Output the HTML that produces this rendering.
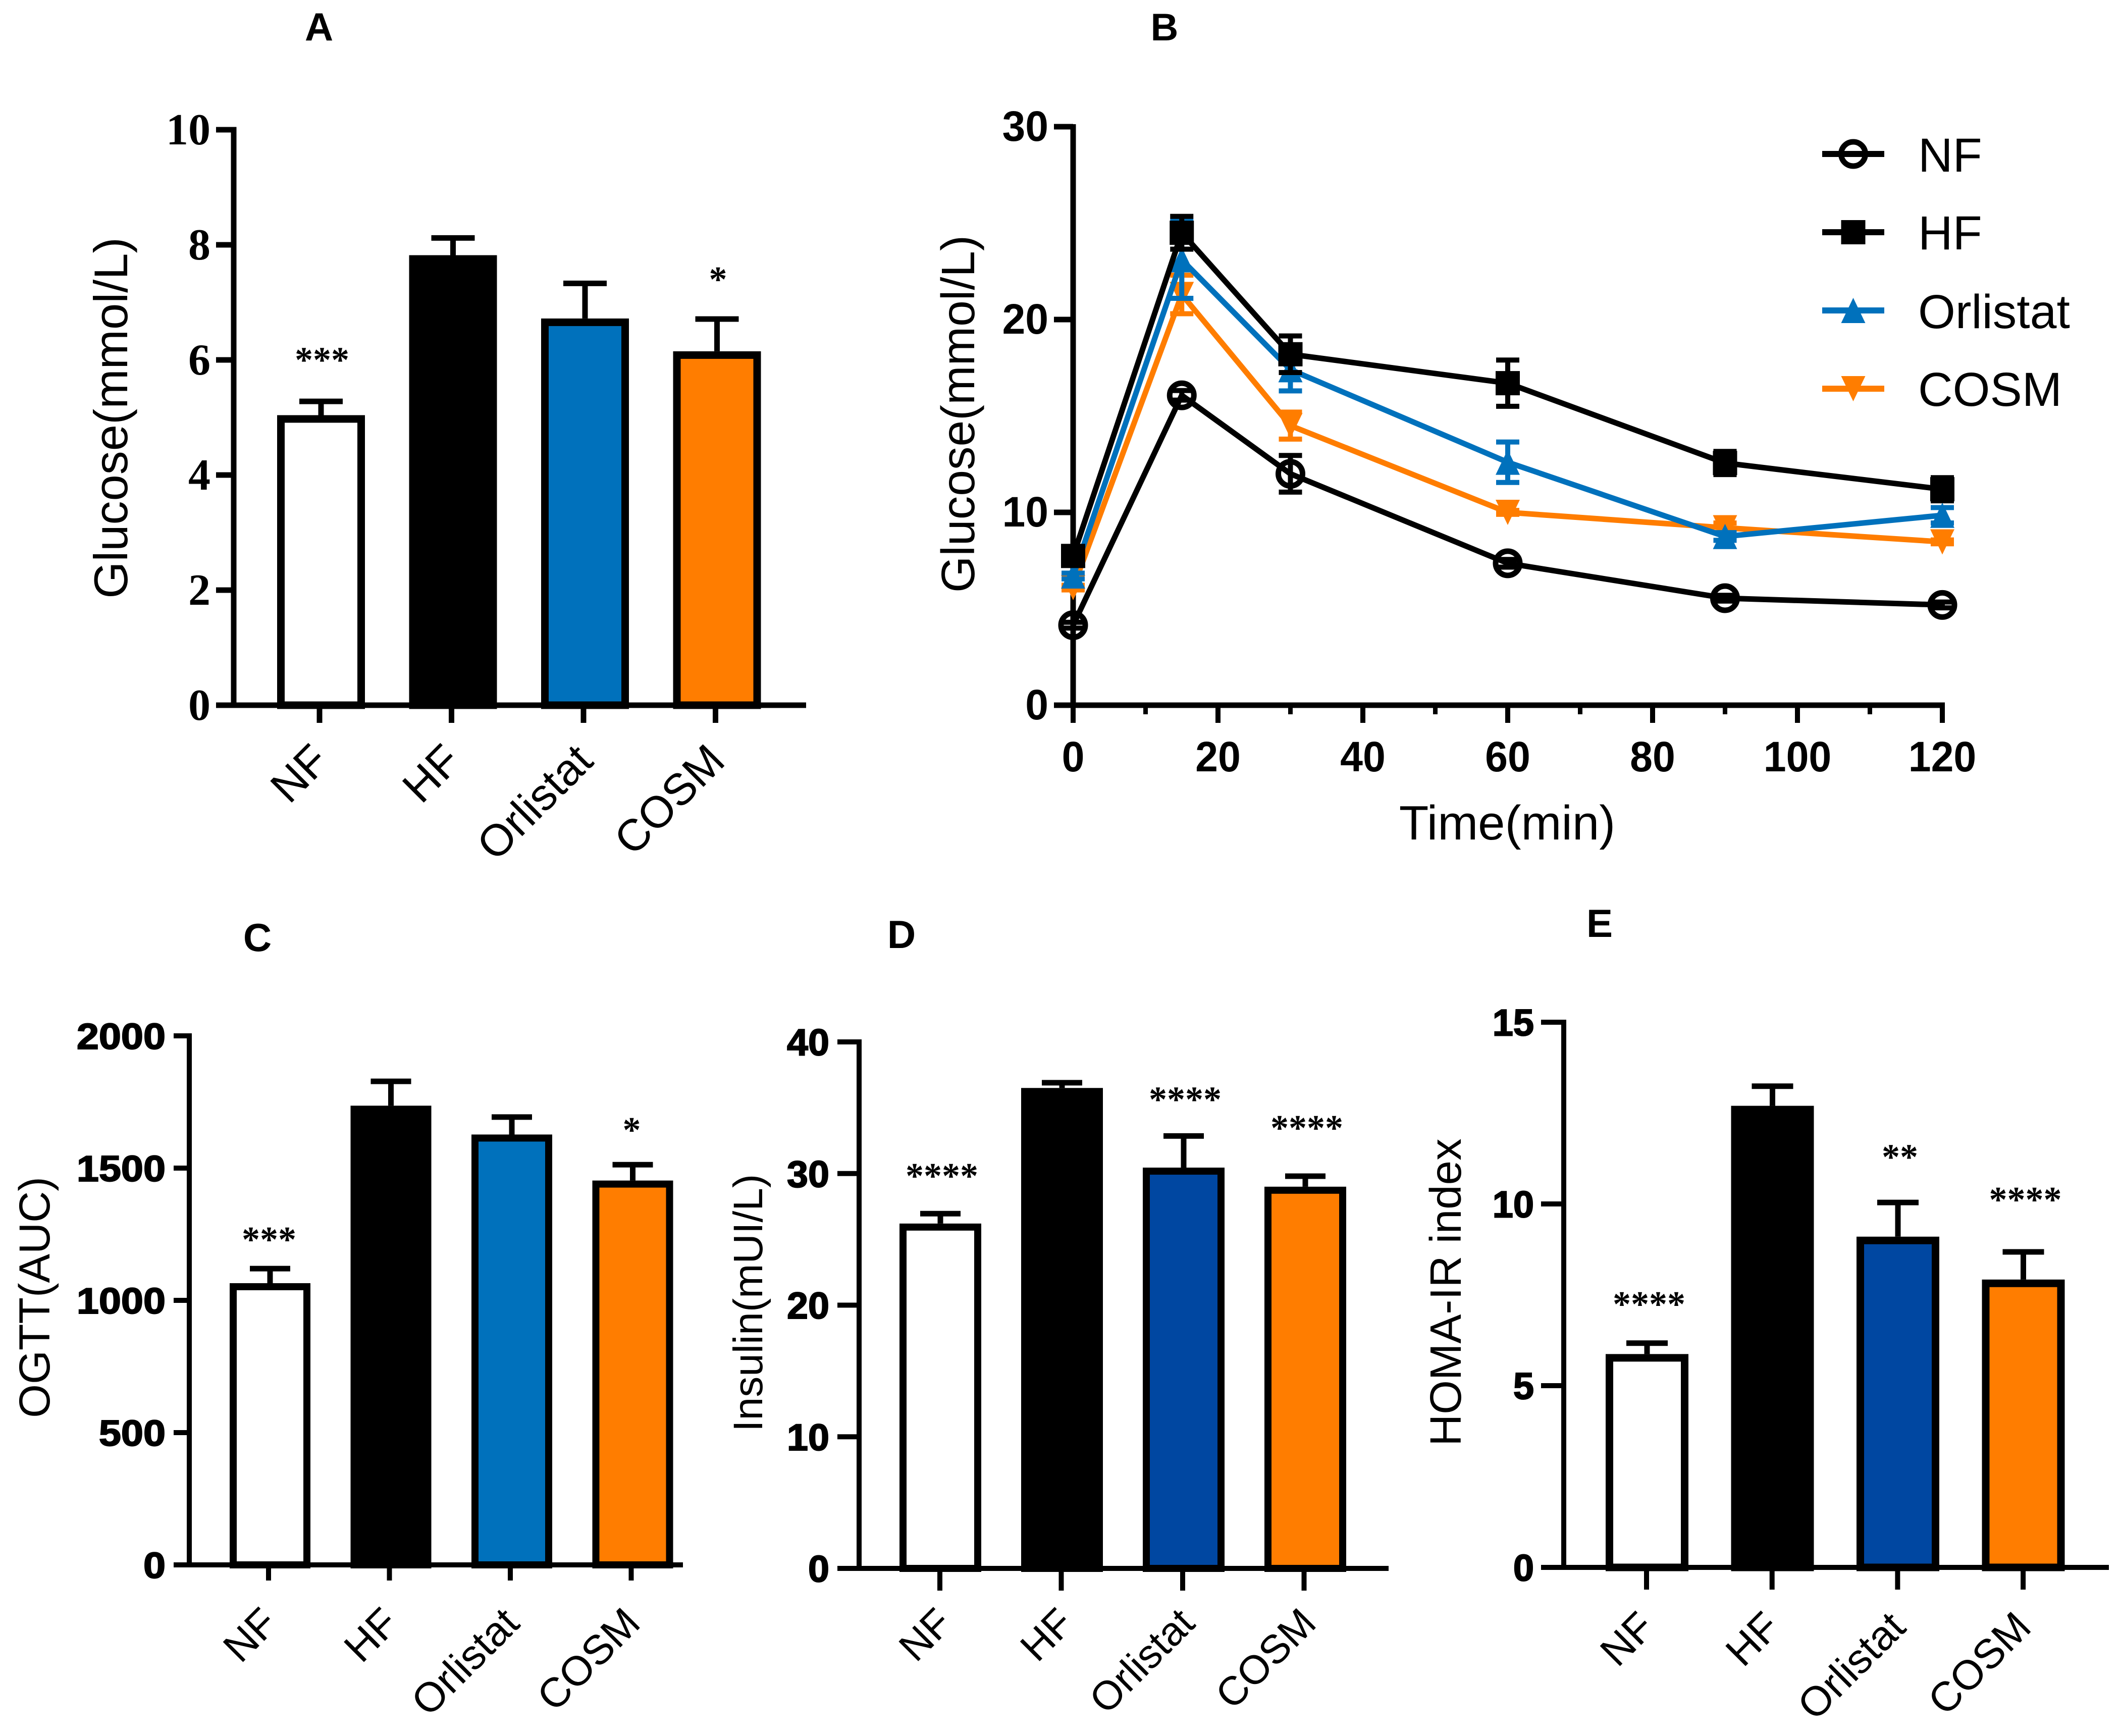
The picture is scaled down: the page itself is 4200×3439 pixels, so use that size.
<!DOCTYPE html>
<html lang="en">
<head>
<meta charset="utf-8">
<title>Glucose, OGTT, insulin and HOMA-IR panels</title>
<style>
html,body{margin:0;padding:0;background:#fff;}
svg{display:block;}
text{font-family:"Liberation Sans",sans-serif;fill:#000;}
</style>
</head>
<body>
<svg id="figure" xmlns="http://www.w3.org/2000/svg" width="4200" height="3439" viewBox="0 0 4200 3439"></svg>
<script>
/* ---------- data ---------- */
const groupNames = ['NF', 'HF', 'Orlistat', 'COSM'];

const panelATicks = [0, 2, 4, 6, 8, 10];
const panelAMeans = [5.04, 7.82, 6.72, 6.15];
const panelAErrors = [0.24, 0.3, 0.61, 0.56];
const panelAStars = ['***', '', '', '*'];
const panelAStarLevels = [6.08, 0, 0, 7.48];

const panelCTicks = [0, 500, 1000, 1500, 2000];
const panelCMeans = [1065, 1736, 1627, 1453];
const panelCErrors = [55, 92, 66, 60];
const panelCStars = ['***', '', '', '*'];
const panelCStarLevels = [1247, 0, 0, 1661];

const panelDTicks = [0, 10, 20, 30, 40];
const panelDMeans = [26.2, 36.5, 30.45, 29.0];
const panelDErrors = [0.75, 0.4, 2.4, 0.8];
const panelDStars = ['****', '', '****', '****'];
const panelDStarLevels = [30.16, 0, 35.97, 33.8];

const panelETicks = [0, 5, 10, 15];
const panelEMeans = [5.87, 12.7, 9.1, 7.92];
const panelEErrors = [0.3, 0.54, 0.94, 0.76];
const panelEStars = ['****', '', '**', '****'];
const panelEStarLevels = [7.37, 0, 11.42, 10.24];

const timePoints = [0, 15, 30, 60, 90, 120];
const panelBYTicks = [0, 10, 20, 30];
const panelBXMajorTicks = [0, 20, 40, 60, 80, 100, 120];
const panelBXMinorTicks = [10, 30, 50, 70, 90, 110];

const nfMeans = [4.15, 16.07, 12, 7.36, 5.55, 5.2];
const nfErrors = [0.15, 0.25, 0.95, 0.2, 0.15, 0.15];
const hfMeans = [7.74, 24.5, 18.2, 16.7, 12.56, 11.2];
const hfErrors = [0.4, 0.85, 0.95, 1.2, 0.6, 0.6];
const orlistatMeans = [6.7, 23.1, 17.4, 12.6, 8.75, 9.85];
const orlistatErrors = [0.15, 2.0, 1.1, 1.05, 0.2, 0.4];
const cosmMeans = [6.1, 21.3, 14.5, 10.0, 9.2, 8.47];
const cosmErrors = [0.12, 1.0, 0.7, 0.1, 0.25, 0.1];

/* ---------- helpers ---------- */
const NS = 'http://www.w3.org/2000/svg';
const svg = document.getElementById('figure');
const SERIF = '"Liberation Serif",serif';
const BLUE = '#0071bc';
const DARKBLUE = '#0047a1';
const ORANGE = '#ff7d00';

function shape(parent, tag, attrs, content) {
  const node = document.createElementNS(NS, tag);
  for (const k in attrs) node.setAttribute(k, attrs[k]);
  if (content !== undefined) node.textContent = content;
  parent.appendChild(node);
  return node;
}
function line(parent, x1, y1, x2, y2, color, w) {
  return shape(parent, 'line', {x1: x1, y1: y1, x2: x2, y2: y2, stroke: color, 'stroke-width': w});
}
function linearScale(d0, d1, r0, r1) {
  return function (v) { return r0 + (v - d0) * (r1 - r0) / (d1 - d0); };
}
function panelLetter(letter, x, y, size) {
  const t = shape(svg, 'text', {x: x, y: y, 'font-size': size, 'font-weight': 700, 'text-anchor': 'middle'}, letter);
  
  
}
function yTitle(parent, label, x, y, size) {
  const t = shape(parent, 'text', {transform: 'translate(' + x + ',' + y + ') rotate(-90)', 'font-size': size, 'text-anchor': 'middle'}, label);
  
  
}

/* ---------- bar panel ---------- */
function barPanel(cfg, ticks, means, errors, stars, starLevels) {
  const g = shape(svg, 'g', {});
  
  
  const yScale = linearScale(0, ticks[ticks.length - 1], cfg.y0, cfg.yTop);
  const center = function (i) { return cfg.barX0 + i * cfg.step; };
  const tickX = function (i) { return cfg.tickX0 + i * cfg.tickStep; };

  means.forEach(function (m, i) {
    const cx = center(i);
    const top = yScale(m);
    const capY = yScale(m + errors[i]);
    const err = line(g, cx - cfg.errShift, top, cx - cfg.errShift, capY, '#000', cfg.errW);
    
    
    const cap = line(g, cx - cfg.errShift - cfg.capW / 2, capY, cx - cfg.errShift + cfg.capW / 2, capY, '#000', cfg.errW);
    
    
    const bar = shape(g, 'rect', {
      x: cx - cfg.barW / 2 + cfg.sw / 2, y: top + cfg.sw / 2,
      width: cfg.barW - cfg.sw, height: Math.max(0, cfg.y0 - top - cfg.sw / 2),
      fill: cfg.fills[i], stroke: '#000', 'stroke-width': cfg.sw
    });
    
    
    if (stars[i]) {
      const s = shape(g, 'text', {x: cx + cfg.starShift, y: yScale(starLevels[i]) + 33, 'font-size': 72, 'font-weight': 700, 'text-anchor': 'middle', style: 'font-family:' + SERIF}, stars[i]);
      
      
    }
  });

  const yAxis = line(g, cfg.axisX, cfg.yTop - cfg.lw / 2, cfg.axisX, cfg.y0 + cfg.lw / 2, '#000', cfg.lw);
  
  
  const xAxis = line(g, cfg.tickLeft, cfg.y0, cfg.xEnd, cfg.y0, '#000', cfg.lw);
  
  

  ticks.forEach(function (t) {
    const y = yScale(t);
    const tk = line(g, cfg.tickLeft, y, cfg.axisX, y, '#000', cfg.lw);
    
    
    const bx = cfg.labelRight;
    const by = y + cfg.tickSize * cfg.capRatio;
    const lbl = shape(g, 'text', {
      transform: 'translate(' + bx + ',' + by + ') scale(' + cfg.tickSx + ',1)',
      'font-size': cfg.tickSize, 'font-weight': 700, 'text-anchor': 'end',
      style: cfg.serif ? 'font-family:' + SERIF : 'stroke:#000;stroke-width:2'
    }, String(t));
    
    
  });

  groupNames.forEach(function (name, i) {
    const x = tickX(i);
    const tk = line(g, x, cfg.y0, x, cfg.tickBottom, '#000', cfg.lw);
    
    
    const lbl = shape(g, 'text', {
      transform: 'translate(' + (x + cfg.labelDx) + ',' + (cfg.y0 + cfg.labelDy) + ') rotate(-45)',
      'font-size': cfg.catSize, 'text-anchor': 'end'
    }, name);
    
    
  });

  yTitle(g, cfg.title, cfg.titleX, cfg.titleY, cfg.titleSize);
}

const lightFills = ['#fff', '#000', BLUE, ORANGE];
const darkFills = ['#fff', '#000', DARKBLUE, ORANGE];

panelLetter('A', 632, 80, 78);
barPanel({id: 'a', y0: 1397, yTop: 257, axisX: 463, tickLeft: 428, xEnd: 1597, tickBottom: 1432, lw: 11,
  barX0: 636, step: 261.5, tickX0: 633, tickStep: 261.5, barW: 174, sw: 15, capW: 86, errW: 11, errShift: 0, starShift: 2,
  fills: lightFills, labelRight: 417, tickSize: 88, tickSx: 1, capRatio: 0.33, serif: true,
  labelDx: 23, labelDy: 115, catSize: 88, title: 'Glucose(mmol/L)', titleX: 252, titleY: 828, titleSize: 94},
  panelATicks, panelAMeans, panelAErrors, panelAStars, panelAStarLevels);

panelLetter('C', 510, 1884, 78);
barPanel({id: 'c', y0: 3100, yTop: 2052, axisX: 375, tickLeft: 344, xEnd: 1353, tickBottom: 3131, lw: 10,
  barX0: 535, step: 239.5, tickX0: 532, tickStep: 239.5, barW: 160, sw: 14, capW: 80, errW: 11, errShift: 0, starShift: -2,
  fills: lightFills, labelRight: 328, tickSize: 72, tickSx: 1.1, capRatio: 0.36,
  labelDx: 22, labelDy: 120, catSize: 82, title: 'OGTT(AUC)', titleX: 98, titleY: 2570, titleSize: 86},
  panelCTicks, panelCMeans, panelCErrors, panelCStars, panelCStarLevels);

panelLetter('D', 1786, 1878, 78);
barPanel({id: 'd', y0: 3107, yTop: 2064, axisX: 1702, tickLeft: 1659, xEnd: 2751, tickBottom: 3151, lw: 10,
  barX0: 1863, step: 241, tickX0: 1862, tickStep: 240.5, barW: 162, sw: 14, capW: 80, errW: 11, errShift: 0, starShift: 3,
  fills: darkFills, labelRight: 1643, tickSize: 74, tickSx: 1.02, capRatio: 0.36,
  labelDx: 28, labelDy: 113, catSize: 80, title: 'Insulin(mUI/L)', titleX: 1510, titleY: 2581, titleSize: 82},
  panelDTicks, panelDMeans, panelDErrors, panelDStars, panelDStarLevels);

panelLetter('E', 3169, 1856, 78);
barPanel({id: 'e', y0: 3105, yTop: 2025, axisX: 3098, tickLeft: 3053, xEnd: 4178, tickBottom: 3149, lw: 10,
  barX0: 3263, step: 248.5, tickX0: 3262, tickStep: 248.7, barW: 164, sw: 15, capW: 82, errW: 11, errShift: 0, starShift: 4,
  fills: darkFills, labelRight: 3039, tickSize: 74, tickSx: 1, capRatio: 0.36,
  labelDx: 20, labelDy: 123, catSize: 82, title: 'HOMA-IR index', titleX: 2894, titleY: 2560, titleSize: 87},
  panelETicks, panelEMeans, panelEErrors, panelEStars, panelEStarLevels);

/* ---------- line panel B ---------- */
panelLetter('B', 2307, 80, 76);
const gB = shape(svg, 'g', {});


const bX = linearScale(0, 120, 2126, 3848);
const bY = linearScale(0, 30, 1397, 251);

function marker(parent, kind, cx, cy, color) {
  if (kind === 'circle') {
    return shape(parent, 'circle', {cx: cx, cy: cy, r: 24, fill: 'none', stroke: color, 'stroke-width': 11});
  }
  if (kind === 'square') {
    return shape(parent, 'rect', {x: cx - 24, y: cy - 24, width: 48, height: 48, fill: color});
  }
  if (kind === 'up') {
    return shape(parent, 'polygon', {points: (cx) + ',' + (cy - 25) + ' ' + (cx + 24) + ',' + (cy + 25) + ' ' + (cx - 24) + ',' + (cy + 25), fill: color});
  }
  return shape(parent, 'polygon', {points: (cx) + ',' + (cy + 25) + ' ' + (cx + 24) + ',' + (cy - 25) + ' ' + (cx - 24) + ',' + (cy - 25), fill: color});
}

function series(name, kind, color, means, errors) {
  const g = shape(gB, 'g', {});
  
  
  const pts = timePoints.map(function (t, i) { return bX(t) + ',' + bY(means[i]); }).join(' ');
  const path = shape(g, 'polyline', {points: pts, fill: 'none', stroke: color, 'stroke-width': 11, 'stroke-linejoin': 'miter'});
  
  
  timePoints.forEach(function (t, i) {
    const x = bX(t);
    const hi = bY(means[i] + errors[i]);
    const lo = bY(means[i] - errors[i]);
    const stem = line(g, x, hi, x, lo, color, 10);
    
    
    const capHi = line(g, x - 23, hi, x + 23, hi, color, 10);
    
    
    const capLo = line(g, x - 23, lo, x + 23, lo, color, 10);
    
    
    const m = marker(g, kind, x, bY(means[i]), color);
    
    
  });
}

/* axes */
const bYAxis = line(gB, 2126, 251 - 5, 2126, 1397 + 5, '#000', 11);


const bXAxis = line(gB, 2088, 1397, 3853, 1397, '#000', 11);


panelBYTicks.forEach(function (t) {
  const tk = line(gB, 2088, bY(t), 2126, bY(t), '#000', 11);
  
  
  const lbl = shape(gB, 'text', {
    transform: 'translate(2077,' + (bY(t) + 28) + ') scale(0.98,1)',
    'font-size': 84, 'font-weight': 700, 'text-anchor': 'end'
  }, String(t));
  
  
});
panelBXMajorTicks.forEach(function (t) {
  const tk = line(gB, bX(t), 1397, bX(t), 1432, '#000', 10);
  
  
  const lbl = shape(gB, 'text', {
    transform: 'translate(' + bX(t) + ',1528) scale(0.96,1)',
    'font-size': 84, 'font-weight': 700, 'text-anchor': 'middle'
  }, String(t));
  
  
});
panelBXMinorTicks.forEach(function (t) {
  const tk = line(gB, bX(t), 1397, bX(t), 1415, '#000', 9);
  
  
});
yTitle(gB, 'Glucose(mmol/L)', 1930, 820, 93);
const xTitleB = shape(gB, 'text', {x: 2986, y: 1663, 'font-size': 96, 'text-anchor': 'middle'}, 'Time(min)');



series('cosm', 'down', ORANGE, cosmMeans, cosmErrors);
series('orlistat', 'up', BLUE, orlistatMeans, orlistatErrors);
series('hf', 'square', '#000', hfMeans, hfErrors);
series('nf', 'circle', '#000', nfMeans, nfErrors);

/* legend */
function legendEntry(name, kind, color, centerY, baseline) {
  const g = shape(gB, 'g', {});
  
  
  const l = line(g, 3610, centerY, 3733, centerY, color, 12);
  
  
  const m = marker(g, kind, 3671.5, centerY, color);
  
  
  const t = shape(g, 'text', {x: 3800, y: baseline, 'font-size': 95}, name);
  
  
}
legendEntry('NF', 'circle', '#000', 305, 340);
legendEntry('HF', 'square', '#000', 460, 494);
legendEntry('Orlistat', 'up', BLUE, 615, 650);
legendEntry('COSM', 'down', ORANGE, 770, 804);
</script>
</body>
</html>
